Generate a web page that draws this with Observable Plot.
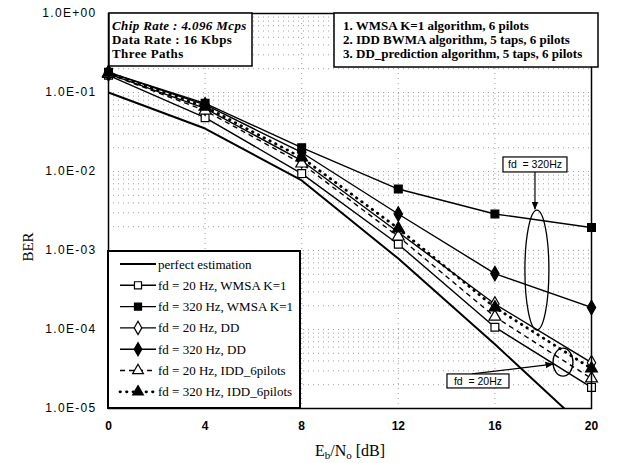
<!DOCTYPE html>
<html><head><meta charset="utf-8">
<script src="https://cdn.jsdelivr.net/npm/d3@7"></script>
<script src="https://cdn.jsdelivr.net/npm/@observablehq/plot@0.6"></script>
<style>body{margin:0;background:#fff} #chart svg{display:block;overflow:visible}</style>
</head><body><div id="chart"></div>
<script>
// ---- data ----
const ebno = [0, 4, 8, 12, 16, 20];
const xTicks = [0, 4, 8, 12, 16, 20];
const yTicks = [1, 1e-1, 1e-2, 1e-3, 1e-4, 1e-5];
const perfect = [0.1, 0.035, 0.0077, 7.9e-4, 6.5e-5, 4.8e-6];
const wmsa20  = [0.165, 0.048, 0.0094, 0.0012, 1.07e-4, 1.85e-5];
const wmsa320 = [0.18, 0.073, 0.020, 0.006, 0.0029, 0.00195];
const dd20    = [0.172, 0.063, 0.0137, 0.0017, 2.1e-4, 3.8e-5];
const dd320   = [0.18, 0.070, 0.0174, 0.0029, 5.1e-4, 1.9e-4];
const idd20   = [0.172, 0.059, 0.0126, 0.0015, 1.45e-4, 2.4e-5];
const idd320  = [0.178, 0.066, 0.015, 0.0019, 1.9e-4, 3.2e-5];
const seriesNames = ["perfect estimation", "fd = 20 Hz, WMSA K=1", "fd = 320 Hz, WMSA K=1",
  "fd = 20 Hz, DD", "fd = 320 Hz, DD", "fd = 20 Hz, IDD_6pilots", "fd = 320 Hz, IDD_6pilots"];
const seriesValues = [perfect, wmsa20, wmsa320, dd20, dd320, idd20, idd320];
const infoLeft = ["Chip Rate : 4.096 Mcps", "Data Rate : 16 Kbps", "Three Paths"];
const infoRight = ["1. WMSA K=1 algorithm, 6 pilots", "2. IDD BWMA algorithm, 5 taps, 6 pilots",
  "3. DD_prediction algorithm, 5 taps, 6 pilots"];
const note320 = "fd  = 320Hz";
const note20 = "fd  = 20Hz";

// ---- styles (not data) ----
const sty = [
  {symbol: null, fill: "none", dash: null, w: 2},
  {symbol: "square", fill: "white", dash: null, w: 1.4},
  {symbol: "square", fill: "black", dash: null, w: 1.4},
  {symbol: "diamond", fill: "white", dash: null, w: 1.4},
  {symbol: "diamond", fill: "black", dash: null, w: 1.4},
  {symbol: "triangle", fill: "white", dash: "5,4", w: 1.4},
  {symbol: "triangle", fill: "black", dash: "0.5,6", w: 2.8}
];

const rows = [];
seriesNames.forEach((s, k) => seriesValues[k].forEach((v, i) => rows.push({s, k, x: ebno[i], y: v})));

const minor = [];
for (let e = -5; e < 0; e++) for (let m = 1; m < 10; m++) minor.push(m * Math.pow(10, e));

const fmt = d => { const e = Math.round(Math.log10(d)); return "1.0E" + (e >= 0 ? "+" : "-") + String(Math.abs(e)).padStart(2, "0"); };

const marks = [
  Plot.ruleY(minor, {stroke: "#888", strokeDasharray: "1,4", strokeWidth: 0.8}),
  Plot.ruleX(xTicks.slice(1, -1), {stroke: "#888", strokeDasharray: "1,4", strokeWidth: 0.8}),
];
seriesNames.forEach((s, k) => {
  const d = rows.filter(r => r.k === k);
  marks.push(Plot.line(d, {x: "x", y: "y", stroke: "black", strokeWidth: sty[k].w,
    strokeDasharray: sty[k].dash, strokeLinecap: sty[k].dash && sty[k].dash.startsWith("0.5") ? "round" : "butt", clip: true}));
});
seriesNames.forEach((s, k) => {
  if (!sty[k].symbol) return;
  const d = rows.filter(r => r.k === k);
  marks.push(Plot.dot(d, {x: "x", y: "y", symbol: () => sty[k].symbol, r: 4.4, fill: sty[k].fill, stroke: "black", strokeWidth: 1.2}));
});
marks.push(Plot.frame({stroke: "black", strokeWidth: 1.5}));
marks.push(Plot.axisY({ticks: yTicks, tickFormat: fmt, tickSize: 0, tickPadding: 12, fontSize: 12, fontFamily: "Liberation Sans, Arial, sans-serif", label: null}));
marks.push(Plot.axisX({ticks: xTicks, tickFormat: d => String(d), tickSize: 0, tickPadding: 13, fontSize: 12, fontWeight: "bold", fontFamily: "Liberation Sans, Arial, sans-serif", label: null}));

const plot = Plot.plot({
  width: 617, height: 463,
  marginLeft: 108, marginRight: 26, marginTop: 13, marginBottom: 55,
  x: {domain: [0, 20]},
  y: {type: "log", domain: [1e-5, 1]},
  symbol: {type: "identity"},
  marks
});
document.getElementById("chart").appendChild(plot);

const svg = d3.select(plot);
svg.selectAll("g[aria-label='y-axis tick label'] text").style("letter-spacing", "1.3px");
const X = v => plot.scale("x").apply(v), Y = v => plot.scale("y").apply(v);
const serif = "Liberation Serif, Times New Roman, serif";

// axis titles
svg.append("text").attr("transform", "translate(33,247) rotate(-90)").attr("text-anchor", "middle")
  .attr("font-family", serif).attr("font-size", 15).text("BER");
const xt = svg.append("text").attr("x", 350).attr("y", 456).attr("text-anchor", "middle")
  .attr("font-family", serif).attr("font-size", 16);
xt.append("tspan").text("E");
xt.append("tspan").attr("font-size", 11).attr("dy", 3).text("b");
xt.append("tspan").attr("dy", -3).text("/N");
xt.append("tspan").attr("font-size", 11).attr("dy", 3).text("o");
xt.append("tspan").attr("dy", -3).text(" [dB]");

// info boxes
const g1 = svg.append("g").attr("text-anchor", "start");
g1.append("rect").attr("x", 109).attr("y", 13).attr("width", 143).attr("height", 53).attr("fill", "white").attr("stroke", "black").attr("stroke-width", 1.5);
infoLeft.forEach((t, i) => g1.append("text").attr("x", 112).attr("y", 30 + i * 14).attr("font-family", serif)
  .attr("text-anchor", "start").attr("font-size", 13).attr("letter-spacing", "0.4px").attr("font-weight", "bold").attr("font-style", i === 0 ? "italic" : "normal").text(t));
const g2 = svg.append("g").attr("text-anchor", "start");
g2.append("rect").attr("x", 334).attr("y", 13).attr("width", 264).attr("height", 54).attr("fill", "white").attr("stroke", "black").attr("stroke-width", 1.5);
infoRight.forEach((t, i) => g2.append("text").attr("x", 343).attr("y", 30 + i * 14).attr("font-family", serif)
  .attr("text-anchor", "start").attr("font-size", 13).attr("font-weight", "bold").text(t));

// legend
const lg = svg.append("g").attr("text-anchor", "start");
lg.append("rect").attr("x", 108).attr("y", 251).attr("width", 192).attr("height", 157).attr("fill", "white").attr("stroke", "black").attr("stroke-width", 2);
seriesNames.forEach((s, k) => {
  const yy = 264 + k * 21.3;
  lg.append("line").attr("x1", 120).attr("x2", 156).attr("y1", yy).attr("y2", yy).attr("stroke", "black")
    .attr("stroke-width", sty[k].w).attr("stroke-dasharray", sty[k].dash)
    .attr("stroke-linecap", sty[k].dash && sty[k].dash.startsWith("0.5") ? "round" : "butt");
  if (sty[k].symbol) {
    const sym = {square: d3.symbolSquare, diamond: d3.symbolDiamond, triangle: d3.symbolTriangle}[sty[k].symbol];
    lg.append("path").attr("d", d3.symbol(sym, 50)()).attr("transform", `translate(138,${yy})`)
      .attr("fill", sty[k].fill).attr("stroke", "black").attr("stroke-width", 1.2);
  }
  lg.append("text").attr("x", 158).attr("y", yy + 4.5).attr("text-anchor", "start").attr("font-family", serif).attr("font-size", 13).text(s);
});

// annotations
svg.append("defs").append("marker").attr("id", "arr").attr("viewBox", "0 0 10 10").attr("refX", 9).attr("refY", 5)
  .attr("markerWidth", 7).attr("markerHeight", 7).attr("orient", "auto")
  .append("path").attr("d", "M0,1 L10,5 L0,9 z").attr("fill", "black");
const an = svg.append("g");
// 320 Hz
const e320 = {x: 17.76, y: 5.6e-4, top: 3.2e-3, bot: 9.7e-5};
an.append("ellipse").attr("cx", X(e320.x)).attr("cy", (Y(e320.top) + Y(e320.bot)) / 2)
  .attr("rx", 12).attr("ry", (Y(e320.bot) - Y(e320.top)) / 2).attr("fill", "none").attr("stroke", "black").attr("stroke-width", 1.3);
const b320 = {x: 17.68, y: 0.0121};
an.append("line").attr("x1", X(b320.x)).attr("x2", X(b320.x)).attr("y1", Y(b320.y) + 7).attr("y2", Y(e320.top) - 1)
  .attr("stroke", "black").attr("stroke-width", 1.2).attr("marker-end", "url(#arr)");
an.append("rect").attr("x", X(b320.x) - 32).attr("y", Y(b320.y) - 7.5).attr("width", 64).attr("height", 15)
  .attr("fill", "white").attr("stroke", "black").attr("stroke-width", 1.2);
an.append("text").attr("x", X(b320.x)).attr("y", Y(b320.y) + 4).attr("text-anchor", "middle")
  .attr("font-family", "Liberation Sans, Arial, sans-serif").attr("font-size", 10.5).attr("xml:space", "preserve").text(note320);
// 20 Hz
const e20 = {x: 18.84, y: 3.8e-5};
an.append("ellipse").attr("cx", X(e20.x)).attr("cy", Y(e20.y)).attr("rx", 10).attr("ry", 14)
  .attr("fill", "none").attr("stroke", "black").attr("stroke-width", 1.3);
const b20 = {x: 15.32, y: 2.2e-5};
an.append("line").attr("x1", X(15.07)).attr("y1", Y(2.7e-5)).attr("x2", X(e20.x) - 10).attr("y2", Y(3.6e-5))
  .attr("stroke", "black").attr("stroke-width", 1.2).attr("marker-end", "url(#arr)");
an.append("rect").attr("x", X(b20.x) - 31).attr("y", Y(b20.y) - 7).attr("width", 62).attr("height", 14)
  .attr("fill", "white").attr("stroke", "black").attr("stroke-width", 1.2);
an.append("text").attr("x", X(b20.x)).attr("y", Y(b20.y) + 4).attr("text-anchor", "middle")
  .attr("font-family", "Liberation Sans, Arial, sans-serif").attr("font-size", 10.5).attr("xml:space", "preserve").text(note20);
</script></body></html>
